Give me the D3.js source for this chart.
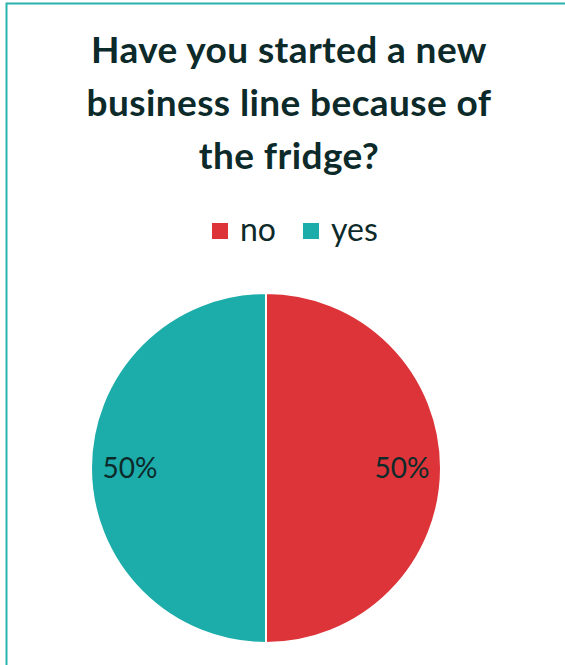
<!DOCTYPE html>
<html>
<head>
<meta charset="utf-8">
<script src="https://cdn.jsdelivr.net/npm/d3@7"></script>
<style>
	body { margin: 0; background: #fff; }
	svg { display: block; }
</style>
</head>
<body>
<script>
const categories = ["no", "yes"];
const values = [50, 50];
const titleLines = ["Have you started a new", "business line because of", "the fridge?"];

const width = 565, height = 665;
const colors = d3.scaleOrdinal().domain(categories).range(["#dc3439", "#1cadaa"]);
const textColor = "#0d2a2a";
const font = "Lato, 'Open Sans', sans-serif";

const svg = d3.select("body").append("svg")
	.attr("width", width)
	.attr("height", height);

svg.append("rect").attr("width", width).attr("height", height).attr("fill", "#fff");

// frame (only top and left edges visible)
svg.append("path")
	.attr("d", "M6.5,700 V3.5 H600")
	.attr("fill", "none")
	.attr("stroke", "#2ab3ad")
	.attr("stroke-width", 2);

/* title */
svg.append("g").selectAll("text")
	.data(titleLines)
	.join("text")
	.attr("x", 289)
	.attr("y", (d, i) => 63 + i * 53)
	.attr("text-anchor", "middle")
	.attr("font-family", font)
	.attr("font-weight", "bold")
	.attr("font-size", 37)
	.attr("letter-spacing", 0.4)
	.attr("fill", textColor)
	.text(d => d);

/* legend */
const legendX = [212, 303];
const legend = svg.append("g").selectAll("g")
	.data(categories)
	.join("g")
	.attr("transform", (d, i) => `translate(${legendX[i]},223)`);
legend.append("rect")
	.attr("width", 16).attr("height", 16)
	.attr("fill", d => colors(d));
legend.append("text")
	.attr("x", 28).attr("y", 18)
	.attr("font-family", font)
	.attr("font-size", 32)
	.attr("fill", textColor)
	.text(d => d);

/* pie */
const cx = 266, cy = 468, r = 175;
const pie = d3.pie().sort(null).value(d => d.value);
const arcs = pie(categories.map((c, i) => ({ cat: c, value: values[i] })));
const arc = d3.arc().innerRadius(0).outerRadius(r);
const labelArc = d3.arc().innerRadius(136).outerRadius(136);
const total = d3.sum(values);

const g = svg.append("g").attr("transform", `translate(${cx},${cy})`);
g.selectAll("path")
	.data(arcs)
	.join("path")
	.attr("d", arc)
	.attr("fill", d => colors(d.data.cat))
	.attr("stroke", "#fff")
	.attr("stroke-width", 2);

g.selectAll("text")
	.data(arcs)
	.join("text")
	.attr("transform", d => `translate(${labelArc.centroid(d)})`)
	.attr("dy", "0.35em")
	.attr("text-anchor", "middle")
	.attr("font-family", font)
	.attr("font-size", 28)
	.attr("fill", textColor)
	.text(d => Math.round(d.data.value / total * 100) + "%");
</script>
</body>
</html>
